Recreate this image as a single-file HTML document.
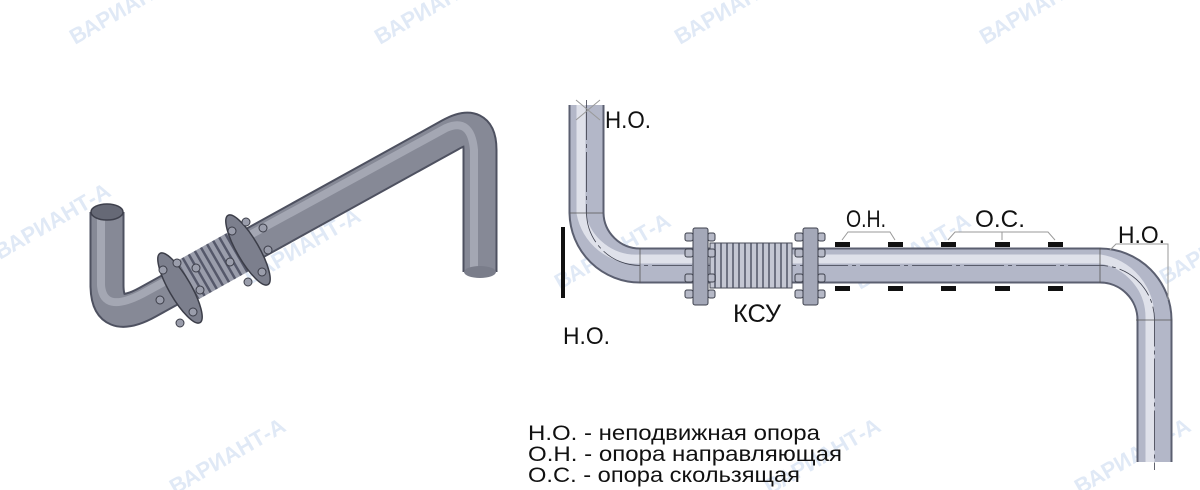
<!DOCTYPE html>
<html><head><meta charset="utf-8"><style>
html,body{margin:0;padding:0;background:#fff;}
svg{display:block;}
text{font-family:"Liberation Sans",Arial,sans-serif;}
</style></head><body>
<svg width="1200" height="490" viewBox="0 0 1200 490" xmlns="http://www.w3.org/2000/svg">
<defs>
<pattern id="bel" width="6" height="10" patternUnits="userSpaceOnUse"><rect width="6" height="10" fill="#c4c7d3"/><rect width="2" height="10" fill="#6e7282"/></pattern>
<pattern id="bel2" width="7" height="10" patternUnits="userSpaceOnUse" patternTransform="rotate(-30)"><rect width="7" height="10" fill="#9a9dab"/><rect width="2.5" height="10" fill="#55586a"/></pattern>
</defs>

<!-- watermarks -->
<g fill="#d3e0f2" font-weight="bold" opacity="0.7">
<text x="0" y="0" font-size="22" transform="translate(75,45) rotate(-30)">ВАРИАНТ-А</text>
<text x="0" y="0" font-size="22" transform="translate(380,45) rotate(-30)">ВАРИАНТ-А</text>
<text x="0" y="0" font-size="22" transform="translate(680,45) rotate(-30)">ВАРИАНТ-А</text>
<text x="0" y="0" font-size="22" transform="translate(985,45) rotate(-30)">ВАРИАНТ-А</text>
<text x="0" y="0" font-size="22" transform="translate(0,260) rotate(-30)">ВАРИАНТ-А</text>
<text x="0" y="0" font-size="22" transform="translate(250,285) rotate(-30)">ВАРИАНТ-А</text>
<text x="0" y="0" font-size="22" transform="translate(560,290) rotate(-30)">ВАРИАНТ-А</text>
<text x="0" y="0" font-size="22" transform="translate(860,290) rotate(-30)">ВАРИАНТ-А</text>
<text x="0" y="0" font-size="22" transform="translate(1165,285) rotate(-30)">ВАРИАНТ-А</text>
<text x="0" y="0" font-size="22" transform="translate(175,495) rotate(-30)">ВАРИАНТ-А</text>
<text x="0" y="0" font-size="22" transform="translate(770,495) rotate(-30)">ВАРИАНТ-А</text>
<text x="0" y="0" font-size="22" transform="translate(1080,495) rotate(-30)">ВАРИАНТ-А</text>
</g>

<!-- LEFT 3D pipe -->
<g>
<path d="M107,212 L107,285 Q107,325 148,302 L450,135 Q480,118 480,150 L480,272" fill="none" stroke="#4e5160" stroke-width="35"/>
<path d="M107,212 L107,285 Q107,325 148,302 L450,135 Q480,118 480,150 L480,272" fill="none" stroke="#868996" stroke-width="31"/>
<path d="M101,212 L101,285 Q103,314 142,294 L446,128 Q471,117 474,150 L474,272" fill="none" stroke="#a4a7b3" stroke-width="8"/>
<ellipse cx="107" cy="212" rx="16" ry="8" fill="#666976" stroke="#3e404c" stroke-width="1.5"/>
<ellipse cx="480" cy="272" rx="16" ry="6" fill="#7a7d8a"/>
<path d="M188,280 L238,252" stroke="url(#bel2)" stroke-width="44" fill="none"/>
<ellipse cx="180" cy="288" rx="11" ry="40" transform="rotate(-30 180 288)" fill="#7c7f8d" stroke="#3b3d48" stroke-width="1.5"/>
<ellipse cx="248" cy="250" rx="11" ry="40" transform="rotate(-30 248 250)" fill="#7c7f8d" stroke="#3b3d48" stroke-width="1.5"/>
<g fill="#9a9dab" stroke="#3b3d48" stroke-width="1">
<circle cx="163" cy="270" r="4"/><circle cx="177" cy="263" r="4"/><circle cx="196" cy="268" r="4"/><circle cx="200" cy="290" r="4"/><circle cx="193" cy="312" r="4"/><circle cx="180" cy="323" r="4"/><circle cx="160" cy="300" r="4"/>
<circle cx="232" cy="231" r="4"/><circle cx="246" cy="222" r="4"/><circle cx="263" cy="228" r="4"/><circle cx="268" cy="250" r="4"/><circle cx="262" cy="272" r="4"/><circle cx="248" cy="282" r="4"/><circle cx="230" cy="262" r="4"/>
</g>
</g>

<!-- RIGHT pipe -->
<g>
<path d="M586.5,105 L586.5,213 A53.5,53.5 0 0 0 640,265.5 L1100,265.5 A54.5,54.5 0 0 1 1154.5,320 L1154.5,462" fill="none" stroke="#5b5f70" stroke-width="36"/>
<path d="M586.5,105 L586.5,213 A53.5,53.5 0 0 0 640,265.5 L1100,265.5 A54.5,54.5 0 0 1 1154.5,320 L1154.5,462" fill="none" stroke="#b3b7c8" stroke-width="32"/>
<path d="M581,105 L581,213 A56,56 0 0 0 640,259 L1100,259 A59,59 0 0 1 1150,318 L1150,462" fill="none" stroke="#dfe1ea" stroke-width="9"/>
<path d="M586.5,100 L586.5,213 A53.5,53.5 0 0 0 640,265.5 L1100,265.5 A54.5,54.5 0 0 1 1154.5,320 L1154.5,470" fill="none" stroke="#3c3f4c" stroke-width="0.8" stroke-dasharray="40,4,4,4"/>
<g stroke="#555" stroke-width="0.8"><line x1="640" y1="248" x2="640" y2="283"/><line x1="1100" y1="248" x2="1100" y2="283"/><line x1="570" y1="213" x2="603" y2="213"/><line x1="1136" y1="320" x2="1172" y2="320"/></g>
<rect x="710" y="243" width="82" height="45" fill="url(#bel)" stroke="#4a4d5a" stroke-width="1"/>
<g fill="#a4a8b8" stroke="#3e414d" stroke-width="1">
<rect x="693" y="228" width="15" height="77" rx="2"/>
<rect x="803" y="228" width="15" height="77" rx="2"/>
<g fill="#b6b9c7">
<rect x="685" y="233" width="8" height="8" rx="2"/><rect x="685" y="249" width="8" height="8" rx="2"/><rect x="685" y="274" width="8" height="8" rx="2"/><rect x="685" y="290" width="8" height="8" rx="2"/>
<rect x="708" y="233" width="7" height="8" rx="2"/><rect x="708" y="249" width="7" height="8" rx="2"/><rect x="708" y="274" width="7" height="8" rx="2"/><rect x="708" y="290" width="7" height="8" rx="2"/>
<rect x="795" y="233" width="8" height="8" rx="2"/><rect x="795" y="249" width="8" height="8" rx="2"/><rect x="795" y="274" width="8" height="8" rx="2"/><rect x="795" y="290" width="8" height="8" rx="2"/>
<rect x="818" y="233" width="7" height="8" rx="2"/><rect x="818" y="249" width="7" height="8" rx="2"/><rect x="818" y="274" width="7" height="8" rx="2"/><rect x="818" y="290" width="7" height="8" rx="2"/>
</g></g>
<g fill="#111">
<rect x="835" y="242" width="15" height="5"/><rect x="888" y="242" width="15" height="5"/><rect x="941" y="242" width="15" height="5"/><rect x="995" y="242" width="15" height="5"/><rect x="1048" y="242" width="15" height="5"/>
<rect x="835" y="286" width="15" height="5"/><rect x="888" y="286" width="15" height="5"/><rect x="941" y="286" width="15" height="5"/><rect x="995" y="286" width="15" height="5"/><rect x="1048" y="286" width="15" height="5"/>
<rect x="561" y="227" width="4" height="71"/>
</g>
<g fill="none" stroke="#999" stroke-width="1">
<polyline points="842,240 848,232 890,232 895,240"/>
<polyline points="948,240 955,232 1048,232 1055,240"/><line x1="1002" y1="232" x2="1002" y2="240"/>
<polyline points="1110,250 1116,244 1168,244 1168,300"/>
<line x1="576" y1="100" x2="600" y2="120"/><line x1="600" y1="100" x2="576" y2="120"/>
</g>
</g>

<!-- labels -->
<g fill="#111" font-size="24">
<text x="605" y="128" textLength="46" lengthAdjust="spacingAndGlyphs">Н.О.</text>
<text x="563" y="344" textLength="47" lengthAdjust="spacingAndGlyphs">Н.О.</text>
<text x="733" y="322" font-size="25" textLength="48" lengthAdjust="spacingAndGlyphs">КСУ</text>
<text x="846" y="227" textLength="40" lengthAdjust="spacingAndGlyphs">О.Н.</text>
<text x="975" y="227" textLength="50" lengthAdjust="spacingAndGlyphs">О.С.</text>
<text x="1118" y="243" textLength="47" lengthAdjust="spacingAndGlyphs">Н.О.</text>
</g>
<g fill="#111" font-size="21">
<text x="528" y="440" textLength="292" lengthAdjust="spacingAndGlyphs">Н.О. - неподвижная опора</text>
<text x="528" y="461" textLength="314" lengthAdjust="spacingAndGlyphs">О.Н. - опора направляющая</text>
<text x="528" y="482" textLength="272" lengthAdjust="spacingAndGlyphs">О.С. - опора скользящая</text>
</g>
</svg>
</body></html>
